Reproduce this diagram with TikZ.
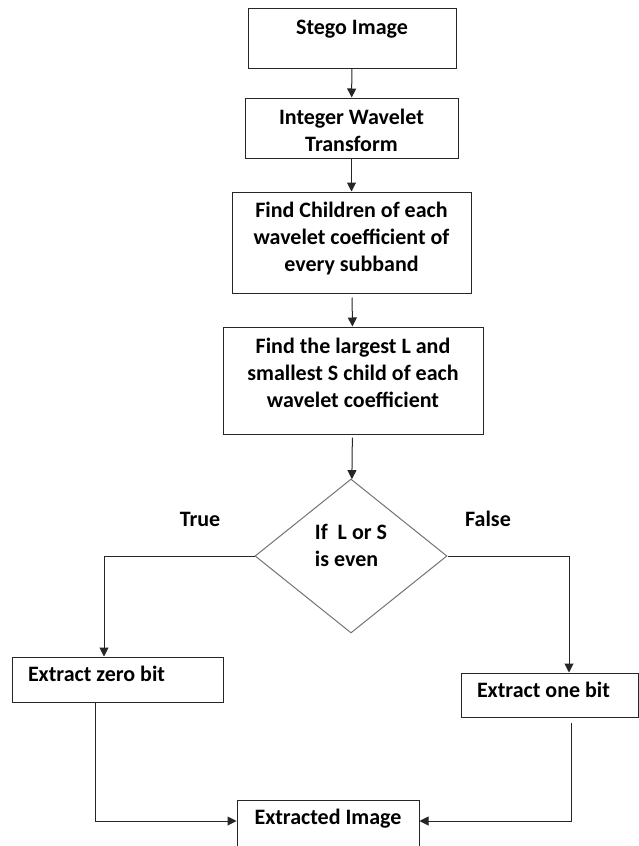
\documentclass[tikz,border=0pt]{standalone}
\usepackage{fontspec}
\setmainfont{Carlito}
\usetikzlibrary{shapes.geometric,arrows.meta}
\tikzset{
  box/.style={draw=black!85,line width=1pt,align=center,inner sep=4pt,text height=14pt},
  leftbox/.style={box,align=flush left,inner xsep=16pt},
  decision/.style={draw=black!55,line width=1pt,diamond,inner sep=0pt,align=flush left,
    minimum width=192pt,minimum height=154pt},
  flow/.style={draw=black!85,line width=1pt,-{Triangle[length=9pt,width=9pt]}}
}
\begin{document}
\begin{tikzpicture}[x=1pt,y=-1pt,every node/.style={font=\fontsize{22}{27}\selectfont\bfseries}]
  \useasboundingbox (0,0) rectangle (639,846);
  \node[box,minimum width=208pt,minimum height=60pt,text depth=22pt] (stego) at (352,38) {Stego Image};
  \node[box,minimum width=213pt,minimum height=60pt,text height=46pt,text depth=0pt] (iwt) at (351.5,128)
    {Integer Wavelet\\Transform};
  \node[box,minimum width=239pt,minimum height=101pt,text height=68pt,text depth=11pt] (children) at (351.5,242.5)
    {Find Children of each\\wavelet coefficient of\\every subband};
  \node[box,minimum width=260pt,minimum height=107pt,text height=68pt,text depth=15pt] (largest) at (353,380.5)
    {Find the largest L and\\smallest S child of each\\wavelet coefficient};
  \node[decision,text height=41pt,text depth=20pt] (even) at (351,556) {If\ \ L or S\\is even};
  \node (true) at (200,519) {True};
  \node (false) at (488,519) {False};
  \node[leftbox,text width=179pt,minimum height=45pt,text depth=10pt] (zero) at (117.5,679.5) {Extract zero bit};
  \node[leftbox,text width=145pt,minimum height=44pt,text depth=10pt] (one) at (549.5,695) {Extract one bit};
  \node[box,minimum width=182pt,minimum height=50pt,text depth=16pt] (out) at (328,825) {Extracted Image};
  \draw[flow] (stego) -- (iwt);
  \draw[flow] (iwt) -- (children);
  \draw[flow,shorten <=4pt] (children) -- (largest);
  \draw[flow,shorten <=3pt] (largest) -- (even);
  \draw[flow] (even.west) -| ([xshift=-13.5pt]zero.north);
  \draw[flow] (even.east) -| ([xshift=19.5pt]one.north);
  \draw[flow] ([xshift=-22.5pt]zero.south) |- ([yshift=4pt]out.west);
  \draw[flow,shorten <=5pt] ([xshift=21.5pt]one.south) |- ([yshift=4pt]out.east);
\end{tikzpicture}
\end{document}
